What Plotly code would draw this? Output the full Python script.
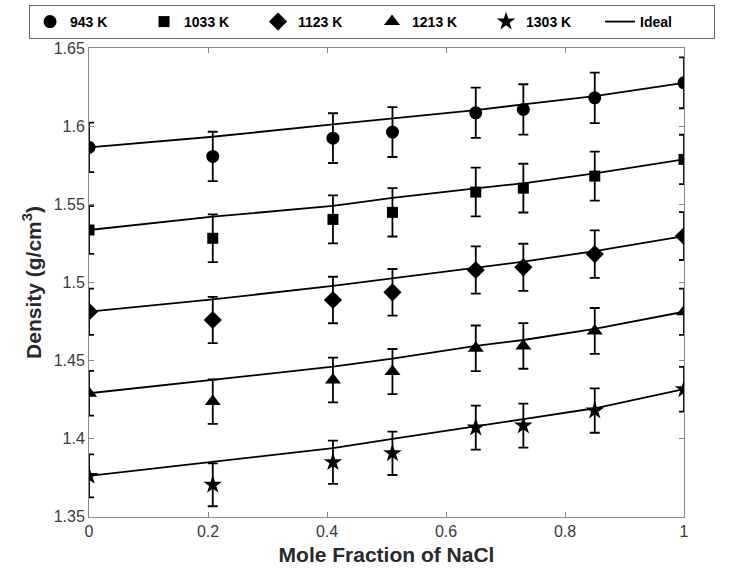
import plotly.graph_objects as go

# Mole fraction of NaCl at each measured composition
x_frac = [0.0, 0.208, 0.41, 0.51, 0.65, 0.73, 0.85, 1.0]

temperatures = ["943 K", "1033 K", "1123 K", "1213 K", "1303 K"]

# Measured densities (g/cm3)
rho_943 = [1.5865, 1.5807, 1.5924, 1.5963, 1.6086, 1.6108, 1.6182, 1.6278]
rho_1033 = [1.5336, 1.5283, 1.5404, 1.5449, 1.5579, 1.5604, 1.5681, 1.5788]
rho_1123 = [1.4813, 1.4760, 1.4888, 1.4937, 1.5080, 1.5097, 1.5182, 1.5297]
rho_1213 = [1.4291, 1.4238, 1.4376, 1.4430, 1.4579, 1.4594, 1.4690, 1.4813]
rho_1303 = [1.3762, 1.3705, 1.3850, 1.3907, 1.4071, 1.4084, 1.4180, 1.4317]

# Ideal-mixing densities (g/cm3) at the same compositions
ideal_943 = [1.5865, 1.5933, 1.6012, 1.6050, 1.6103, 1.6140, 1.6193, 1.6278]
ideal_1033 = [1.5336, 1.5421, 1.5491, 1.5542, 1.5603, 1.5635, 1.5698, 1.5788]
ideal_1123 = [1.4813, 1.4892, 1.4978, 1.5027, 1.5095, 1.5133, 1.5201, 1.5297]
ideal_1213 = [1.4291, 1.4376, 1.4461, 1.4513, 1.4594, 1.4632, 1.4703, 1.4813]
ideal_1303 = [1.3762, 1.3850, 1.3940, 1.3999, 1.4082, 1.4125, 1.4195, 1.4317]

# Relative uncertainty of each density measurement (%)
rel_err_pct = 1.0

y_ticks = [1.35, 1.4, 1.45, 1.5, 1.55, 1.6, 1.65]
y_tick_text = ["1.35", "1.4", "1.45", "1.5", "1.55", "1.6", "1.65"]
x_ticks = [0, 0.2, 0.4, 0.6, 0.8, 1.0]
x_tick_text = ["0", "0.2", "0.4", "0.6", "0.8", "1"]

measured = [rho_943, rho_1033, rho_1123, rho_1213, rho_1303]
ideal = [ideal_943, ideal_1033, ideal_1123, ideal_1213, ideal_1303]
symbols = ["circle", "square", "diamond", "triangle-up", "star"]
sizes = [13, 11, 14, 14, 14]

FONT = "Liberation Sans, Arial, sans-serif"

fig = go.Figure()

# Ideal curves first so markers sit on top
for curve in ideal:
    fig.add_trace(go.Scatter(
        x=x_frac, y=curve, mode="lines",
        line=dict(color="black", width=1.8),
        name="Ideal", showlegend=False, hoverinfo="skip",
    ))

for name, vals, sym, sz in zip(temperatures, measured, symbols, sizes):
    fig.add_trace(go.Scatter(
        x=x_frac, y=vals, mode="markers", name=f"<b>{name}</b>",
        marker=dict(symbol=sym, size=sz, color="black",
                    line=dict(width=0)),
        error_y=dict(type="percent", value=rel_err_pct, color="black",
                     thickness=1.8, width=5),
    ))

# Legend entry for the ideal curves
fig.add_trace(go.Scatter(
    x=[None], y=[None], mode="lines", name="<b>Ideal</b>",
    line=dict(color="black", width=1.8),
))

axis_common = dict(
    showline=True, linecolor="#8a8a8a", linewidth=1, mirror="ticks",
    ticks="inside", ticklen=5, tickcolor="#8a8a8a", tickwidth=1,
    showgrid=False, zeroline=False,
    tickfont=dict(family=FONT, size=16, color="#3a3a3a"),
)

fig.update_xaxes(
    range=[0, 1], tickvals=x_ticks, ticktext=x_tick_text,
    title=dict(text="<b>Mole Fraction of NaCl</b>", standoff=8,
               font=dict(family=FONT, size=21, color="#2a2a2a")),
    **axis_common,
)
fig.update_yaxes(
    range=[1.3499, 1.6501], tickvals=y_ticks, ticktext=y_tick_text,
    title=dict(text="<b>Density (g/cm<sup>3</sup>)</b>", standoff=6,
               font=dict(family=FONT, size=21, color="#2a2a2a")),
    **axis_common,
)

fig.update_layout(
    width=731, height=574,
    margin=dict(l=89, r=47, t=48, b=57, autoexpand=False),
    paper_bgcolor="white", plot_bgcolor="white",
    showlegend=True,
    legend=dict(
        orientation="h", x=-0.1008, y=1.0917, xanchor="left", yanchor="top",
        bordercolor="#6a6a6a", borderwidth=1, bgcolor="white",
        font=dict(family=FONT, size=14, color="black"),
        entrywidth=69, entrywidthmode="pixels",
        traceorder="normal",
    ),
)

fig.write_html("out.html")
